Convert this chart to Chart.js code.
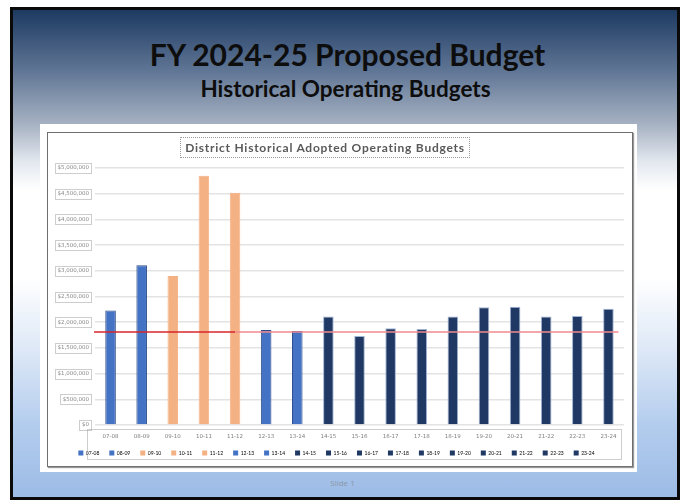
<!DOCTYPE html>
<html>
<head>
<meta charset="utf-8">
<script src="https://cdn.jsdelivr.net/npm/chart.js@4/dist/chart.umd.min.js"></script>
<style>
  html, body { margin: 0; padding: 0; background: #ffffff; width: 685px; height: 504px; overflow: hidden; }
  #slide {
    position: absolute; left: 10px; top: 7px; width: 664px; height: 487px;
    border: 3px solid #0a0a0a;
    background: linear-gradient(to bottom, #1d3a61 0%, #5d7393 12%, #aab5c5 24%, #e2e7ee 31%, #ffffff 37%, #ffffff 55%, #dde8f6 70%, #b4cdee 85%, #9cbbe5 100%);
  }
  #t1 { position: absolute; left: 5px; width: 685px; top: 36px; text-align: center; font-family: Lato, "Open Sans", sans-serif; font-weight: bold; font-size: 30px; color: #0d0d0d; }
  #t2 { position: absolute; left: 3px; width: 685px; top: 75px; text-align: center; font-family: Lato, "Open Sans", sans-serif; font-weight: bold; font-size: 22.5px; color: #0d0d0d; }
  #pic { position: absolute; left: 40px; top: 124px; width: 597px; height: 348px; background: #ffffff; }
  #frame { position: absolute; left: 47px; top: 132px; width: 584px; height: 333px; border: 1px solid #6f6f6f; box-shadow: 1px 1px 1px #9a9a9a; background: #fff; }
  #wrap { position: absolute; left: 49px; top: 133px; width: 583px; height: 332px; }
  #ctitle { position: absolute; left: 180px; top: 137px; width: 288px; height: 19px; border: 1px dotted #9a9a9a; text-align: center; line-height: 19px; font-family: Lato, "Open Sans", sans-serif; font-weight: bold; font-size: 12px; letter-spacing: 0.75px; color: #595959; white-space: nowrap; }
  #foot { position: absolute; left: 0; width: 685px; top: 477px; text-align: center; font-family: "Open Sans", sans-serif; font-size: 8px; color: #8a97a8; }
</style>
</head>
<body>
<div id="slide"></div>
<div id="t1">FY 2024-25 Proposed Budget</div>
<div id="t2">Historical Operating Budgets</div>
<div id="pic"></div>
<div id="frame"></div>
<div id="wrap"><canvas id="c" width="583" height="332"></canvas></div>
<div id="ctitle">District Historical Adopted Operating Budgets</div>
<div id="foot">Slide 1</div>
<script>
const categories = ["07-08","08-09","09-10","10-11","11-12","12-13","13-14","14-15","15-16","16-17","17-18","18-19","19-20","20-21","21-22","22-23","23-24"];
const budgets = [2230000, 3110000, 2900000, 4850000, 4520000, 1850000, 1830000, 2110000, 1730000, 1880000, 1870000, 2110000, 2290000, 2300000, 2110000, 2120000, 2260000];
const groups = ["blue","blue","orange","orange","orange","blue","blue","navy","navy","navy","navy","navy","navy","navy","navy","navy","navy"];
const referenceLine = 1810000;
const referenceSplitIndex = 4;
const yTickValues = [0,500000,1000000,1500000,2000000,2500000,3000000,3500000,4000000,4500000,5000000];

const fillFor = { blue: "#4472c4", orange: "#f4b183", navy: "#203864" };
const edgeFor = { blue: "#2f4f8a", orange: "#f4b183", navy: "#9fb4d3" };
const fills = groups.map(g => fillFor[g]);
const edges = groups.map(g => edgeFor[g]);

const TICKFONT = "'DejaVu Sans', sans-serif";
const fmt = v => "$" + Number(v).toLocaleString("en-US");

const decorPlugin = {
  id: "decor",
  afterDatasetsDraw(chart) {
    const ctx = chart.ctx, x = chart.scales.x, y = chart.scales.y, a = chart.chartArea;
    const py = y.getPixelForValue(referenceLine);
    const xs = x.getPixelForValue(referenceSplitIndex);
    ctx.save();
    ctx.lineWidth = 1.5;
    ctx.strokeStyle = "#f08a8e";
    ctx.beginPath(); ctx.moveTo(xs, py); ctx.lineTo(x.getPixelForValue(categories.length - 1) + 10, py); ctx.stroke();
    ctx.strokeStyle = "#d8262b";
    ctx.beginPath(); ctx.moveTo(a.left - 1, py); ctx.lineTo(xs, py); ctx.stroke();
    ctx.restore();
  },
  afterDraw(chart) {
    const ctx = chart.ctx, y = chart.scales.y, a = chart.chartArea;
    ctx.save();
    ctx.setLineDash([1, 1]);
    ctx.lineWidth = 1;
    ctx.strokeStyle = "#9a9a9a";
    ctx.font = "5.5px " + TICKFONT;
    y.ticks.forEach(t => {
      const w = ctx.measureText(fmt(t.value)).width;
      const p = y.getPixelForValue(t.value);
      const right = a.left - 4;
      ctx.strokeRect(Math.round(right - w - 5) + 0.5, Math.round(p - 5) + 0.5, Math.round(w + 5), 10);
    });
    ctx.strokeRect(Math.round(a.left - 8) + 0.5, Math.round(a.bottom + 4) + 0.5, Math.round(a.right - a.left + 5), 30);
    ctx.restore();
  }
};

new Chart(document.getElementById("c"), {
  type: "bar",
  data: {
    labels: categories,
    datasets: [{
      label: "Adopted Operating Budget",
      data: budgets,
      backgroundColor: fills,
      borderColor: edges,
      borderWidth: 1,
      categoryPercentage: 1,
      barPercentage: 0.34
    }]
  },
  options: {
    responsive: false,
    animation: false,
    devicePixelRatio: 1,
    layout: { padding: { left: 0, right: 8, top: 35, bottom: 3 } },
    plugins: {
      title: { display: false },
      legend: {
        display: true,
        position: "bottom",
        maxHeight: 21.5,
        labels: {
          color: "#6f6f6f",
          font: { family: "Lato, 'Open Sans', sans-serif", size: 5 },
          boxWidth: 5,
          boxHeight: 5,
          padding: 10,
          generateLabels: () => categories.map((c, i) => ({
            text: c, fillStyle: fills[i], strokeStyle: groups[i] === "orange" ? fills[i] : "#1f3763",
            lineWidth: 0, hidden: false, index: i, datasetIndex: 0
          }))
        }
      },
      tooltip: { enabled: false }
    },
    scales: {
      x: {
        afterFit: s => { s.height = 15.5; },
        grid: { display: false, drawTicks: false },
        border: { display: false },
        ticks: { color: "#7f7f7f", font: { family: TICKFONT, size: 5.5 }, padding: 8, maxRotation: 0, autoSkip: false }
      },
      y: {
        min: 0, max: 5000000,
        afterFit: s => { s.width = 46; },
        afterBuildTicks: s => { s.ticks = yTickValues.map(v => ({ value: v })); },
        grid: { color: "#e3e3e3", lineWidth: 1.5, drawTicks: false },
        border: { display: false },
        ticks: {
          color: "#8a8a8a",
          font: { family: TICKFONT, size: 5.5 },
          padding: 6,
          callback: v => fmt(v)
        }
      }
    }
  },
  plugins: [decorPlugin]
});
</script>
</body>
</html>
